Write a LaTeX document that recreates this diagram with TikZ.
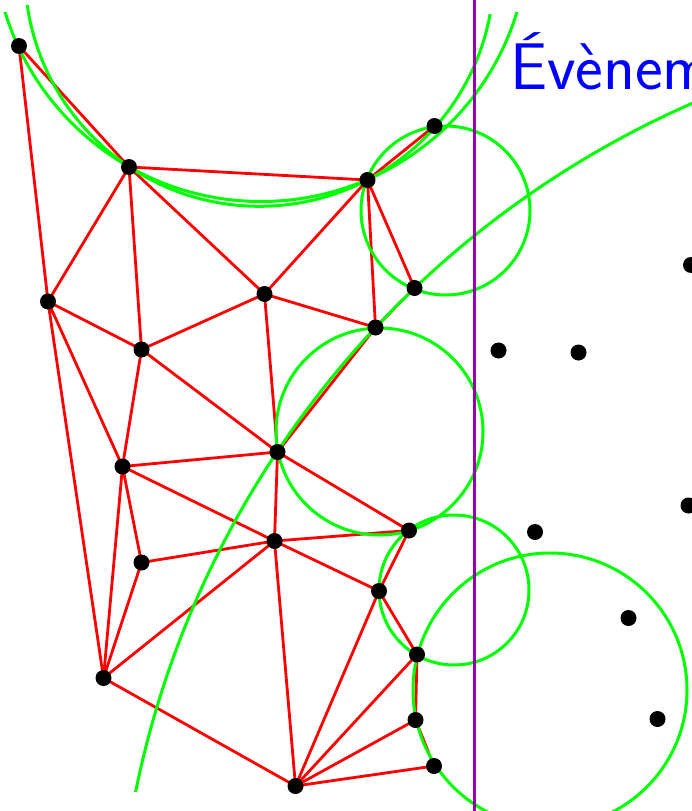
\documentclass[tikz,border=0pt]{standalone}
\usepackage{fontspec}
\definecolor{dred}{RGB}{255,0,0}
\definecolor{dgreen}{RGB}{0,255,0}
\definecolor{dpurple}{RGB}{148,0,170}
\definecolor{dblue}{RGB}{0,0,255}
\tikzset{
  edge/.style={draw=dred,line width=2.8pt},
  circ/.style={draw=dgreen,line width=3pt},
  sweep/.style={draw=dpurple,line width=3pt},
  dot/.style={circle,fill=black,inner sep=0pt,minimum size=16pt},
  title/.style={text=dblue,inner sep=0pt,anchor=base west,font=\sffamily\fontsize{66}{70}\selectfont}
}
\begin{document}
\begin{tikzpicture}[x=1pt,y=-1pt]
\useasboundingbox (0,0) rectangle (692,811);
\clip (0,0) rectangle (692,811);
% sites
\coordinate (A) at (19,46);
\coordinate (B) at (129,167);
\coordinate (C) at (367.5,180);
\coordinate (D) at (434.5,126);
\coordinate (E) at (414.5,288);
\coordinate (F) at (48,301.5);
\coordinate (G) at (264.5,294);
\coordinate (H) at (375.5,327.5);
\coordinate (I) at (141.5,349.5);
\coordinate (J) at (277.5,452);
\coordinate (K) at (122.5,466.5);
\coordinate (L) at (409,530.5);
\coordinate (M) at (274.5,541);
\coordinate (N) at (141.5,562.5);
\coordinate (O) at (379,591);
\coordinate (P) at (103.5,678);
\coordinate (Q) at (417,654.5);
\coordinate (R) at (415.5,720);
\coordinate (S) at (434,766);
\coordinate (T) at (295.5,786);
\coordinate (U1) at (691,265);
\coordinate (U2) at (498.5,350.5);
\coordinate (U3) at (578.5,352.5);
\coordinate (U4) at (688.5,505.5);
\coordinate (U5) at (535,532);
\coordinate (U6) at (628.5,618);
\coordinate (U7) at (657.5,719);
% Delaunay edges
\draw[edge] (A)--(B) (A)--(F);
\draw[edge] (B)--(C) (B)--(F) (B)--(I) (B)--(G);
\draw[edge] (C)--(D) (C)--(G) (C)--(H) (C)--(E);
\draw[edge] (E)--(H);
\draw[edge] (F)--(I) (F)--(K) (F)--(P);
\draw[edge] (G)--(I) (G)--(H) (G)--(J);
\draw[edge] (H)--(J);
\draw[edge] (I)--(K) (I)--(J);
\draw[edge] (J)--(K) (J)--(M) (J)--(L);
\draw[edge] (K)--(M) (K)--(N) (K)--(P);
\draw[edge] (L)--(M) (L)--(O);
\draw[edge] (M)--(N) (M)--(O) (M)--(P) (M)--(T);
\draw[edge] (N)--(P);
\draw[edge] (O)--(Q) (O)--(T);
\draw[edge] (P)--(T);
\draw[edge] (Q)--(T) (Q)--(R);
\draw[edge] (R)--(T) (R)--(S);
\draw[edge] (S)--(T);
% empty circles
\begin{scope}
  \clip (0,12) rectangle (692,811);
  \draw[circ] (261,-66) circle[radius=267.5pt];
\end{scope}
\begin{scope}
  \clip (0,4.5) -- (692,18) -- (692,811) -- (0,811) -- cycle;
  \draw[circ] (259.4,-28.2) circle[radius=234.5pt];
\end{scope}
\draw[circ] (445.5,210.5) circle[radius=84.5pt];
\draw[circ] (379.5,431.5) circle[radius=103.5pt];
\draw[circ] (454,590) circle[radius=75pt];
\draw[circ] (550,690) circle[radius=137pt];
\begin{scope}
  \clip (0,0) rectangle (692,791);
  \draw[circ] (1077.4,984) circle[radius=961pt];
\end{scope}
% sweep line
\coordinate (sweeptop) at (474,0);
\coordinate (sweepbot) at (474,811);
\draw[sweep] (sweeptop) -- (sweepbot);
% dots
\foreach \p in {A,B,C,D,E,F,G,H,I,J,K,L,M,N,O,P,Q,R,S,T,U1,U2,U3,U4,U5,U6,U7}
  \node[dot] (d\p) at (\p) {};
\node[title] (ev) at (510,89) {Évènement};
\end{tikzpicture}
\end{document}
